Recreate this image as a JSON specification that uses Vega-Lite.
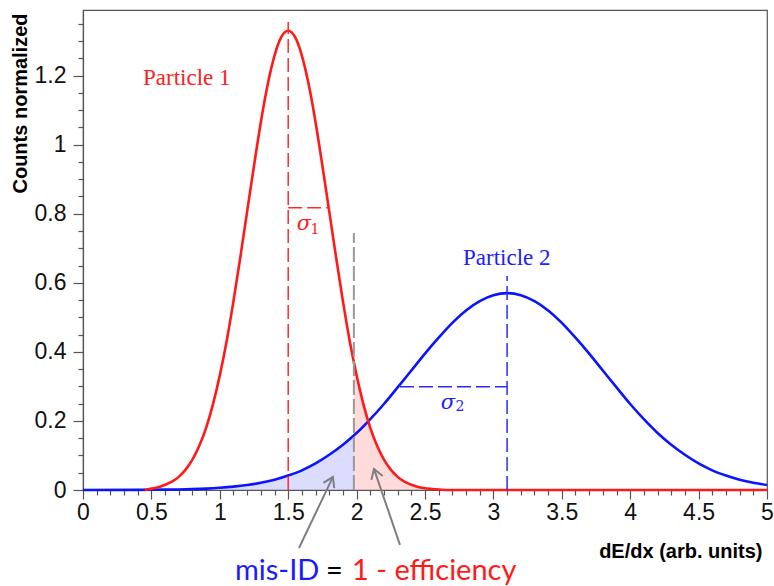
{
  "$schema": "https://vega.github.io/schema/vega-lite/v6.json",
  "width": 684,
  "height": 480,
  "autosize": {"type": "none"},
  "padding": {"left": 83, "top": 10, "right": 7, "bottom": 96},
  "background": "white",
  "config": {
    "view": {"stroke": "#555", "strokeWidth": 1.2},
    "axis": {
      "grid": false,
      "labelFont": "Liberation Sans",
      "labelFontSize": 23,
      "labelColor": "#111",
      "tickColor": "#555",
      "tickWidth": 1.2,
      "domainColor": "#555",
      "domainWidth": 1.2,
      "titleFont": "Liberation Sans",
      "titleFontWeight": "bold",
      "titleFontSize": 20,
      "titleColor": "#000",
      "labelOverlap": false,
      "labelBound": false
    }
  },
  "datasets": {
    "curves": [
      {"series": "blue", "x": 0.0, "y": 0.0},
      {"series": "blue", "x": 0.4, "y": 0.0003},
      {"series": "blue", "x": 0.5, "y": 0.0006},
      {"series": "blue", "x": 0.6, "y": 0.001},
      {"series": "blue", "x": 0.7, "y": 0.0016},
      {"series": "blue", "x": 0.8, "y": 0.0026},
      {"series": "blue", "x": 0.9, "y": 0.0041},
      {"series": "blue", "x": 1.0, "y": 0.0064},
      {"series": "blue", "x": 1.1, "y": 0.0097},
      {"series": "blue", "x": 1.2, "y": 0.0144},
      {"series": "blue", "x": 1.3, "y": 0.021},
      {"series": "blue", "x": 1.4, "y": 0.03},
      {"series": "blue", "x": 1.5, "y": 0.042},
      {"series": "blue", "x": 1.6, "y": 0.057},
      {"series": "blue", "x": 1.7, "y": 0.077},
      {"series": "blue", "x": 1.8, "y": 0.102},
      {"series": "blue", "x": 1.9, "y": 0.131},
      {"series": "blue", "x": 1.98, "y": 0.158},
      {"series": "blue", "x": 2.0, "y": 0.165},
      {"series": "blue", "x": 2.1, "y": 0.205},
      {"series": "blue", "x": 2.2, "y": 0.249},
      {"series": "blue", "x": 2.3, "y": 0.297},
      {"series": "blue", "x": 2.4, "y": 0.346},
      {"series": "blue", "x": 2.5, "y": 0.395},
      {"series": "blue", "x": 2.6, "y": 0.441},
      {"series": "blue", "x": 2.7, "y": 0.484},
      {"series": "blue", "x": 2.8, "y": 0.52},
      {"series": "blue", "x": 2.9, "y": 0.547},
      {"series": "blue", "x": 3.0, "y": 0.564},
      {"series": "blue", "x": 3.1, "y": 0.57},
      {"series": "blue", "x": 3.2, "y": 0.564},
      {"series": "blue", "x": 3.3, "y": 0.547},
      {"series": "blue", "x": 3.4, "y": 0.52},
      {"series": "blue", "x": 3.5, "y": 0.484},
      {"series": "blue", "x": 3.6, "y": 0.441},
      {"series": "blue", "x": 3.7, "y": 0.395},
      {"series": "blue", "x": 3.8, "y": 0.346},
      {"series": "blue", "x": 3.9, "y": 0.297},
      {"series": "blue", "x": 4.0, "y": 0.249},
      {"series": "blue", "x": 4.1, "y": 0.205},
      {"series": "blue", "x": 4.2, "y": 0.165},
      {"series": "blue", "x": 4.3, "y": 0.131},
      {"series": "blue", "x": 4.4, "y": 0.102},
      {"series": "blue", "x": 4.5, "y": 0.077},
      {"series": "blue", "x": 4.6, "y": 0.057},
      {"series": "blue", "x": 4.7, "y": 0.042},
      {"series": "blue", "x": 4.8, "y": 0.03},
      {"series": "blue", "x": 4.9, "y": 0.021},
      {"series": "blue", "x": 5.0, "y": 0.0145},
      {"series": "red", "x": 0.45, "y": 0.0},
      {"series": "red", "x": 0.5, "y": 0.004},
      {"series": "red", "x": 0.55, "y": 0.008},
      {"series": "red", "x": 0.6, "y": 0.015},
      {"series": "red", "x": 0.65, "y": 0.024},
      {"series": "red", "x": 0.7, "y": 0.038},
      {"series": "red", "x": 0.75, "y": 0.059},
      {"series": "red", "x": 0.8, "y": 0.088},
      {"series": "red", "x": 0.85, "y": 0.128},
      {"series": "red", "x": 0.9, "y": 0.18},
      {"series": "red", "x": 0.95, "y": 0.248},
      {"series": "red", "x": 1.0, "y": 0.332},
      {"series": "red", "x": 1.05, "y": 0.431},
      {"series": "red", "x": 1.1, "y": 0.547},
      {"series": "red", "x": 1.15, "y": 0.674},
      {"series": "red", "x": 1.2, "y": 0.807},
      {"series": "red", "x": 1.25, "y": 0.939},
      {"series": "red", "x": 1.3, "y": 1.065},
      {"series": "red", "x": 1.35, "y": 1.174},
      {"series": "red", "x": 1.4, "y": 1.258},
      {"series": "red", "x": 1.45, "y": 1.312},
      {"series": "red", "x": 1.5, "y": 1.33},
      {"series": "red", "x": 1.55, "y": 1.312},
      {"series": "red", "x": 1.6, "y": 1.258},
      {"series": "red", "x": 1.65, "y": 1.174},
      {"series": "red", "x": 1.7, "y": 1.065},
      {"series": "red", "x": 1.75, "y": 0.939},
      {"series": "red", "x": 1.8, "y": 0.807},
      {"series": "red", "x": 1.85, "y": 0.674},
      {"series": "red", "x": 1.9, "y": 0.547},
      {"series": "red", "x": 1.95, "y": 0.431},
      {"series": "red", "x": 1.98, "y": 0.37},
      {"series": "red", "x": 2.0, "y": 0.332},
      {"series": "red", "x": 2.05, "y": 0.248},
      {"series": "red", "x": 2.1, "y": 0.18},
      {"series": "red", "x": 2.15, "y": 0.128},
      {"series": "red", "x": 2.2, "y": 0.088},
      {"series": "red", "x": 2.25, "y": 0.059},
      {"series": "red", "x": 2.3, "y": 0.038},
      {"series": "red", "x": 2.35, "y": 0.024},
      {"series": "red", "x": 2.4, "y": 0.015},
      {"series": "red", "x": 2.45, "y": 0.009},
      {"series": "red", "x": 2.5, "y": 0.005},
      {"series": "red", "x": 2.55, "y": 0.003},
      {"series": "red", "x": 2.6, "y": 0.0015},
      {"series": "red", "x": 2.7, "y": 0.0},
      {"series": "red", "x": 5.0, "y": 0.0}
    ],
    "guides": [
      {"group": "red", "x": 1.5, "x2": 1.5, "y": 0, "y2": 1.355},
      {"group": "red", "x": 1.5, "x2": 1.806, "y": 0.817, "y2": 0.817},
      {"group": "blue", "x": 3.1, "x2": 3.1, "y": 0, "y2": 0.62},
      {"group": "blue", "x": 2.317, "x2": 3.1, "y": 0.299, "y2": 0.299},
      {"group": "cut", "x": 1.98, "x2": 1.98, "y": 0, "y2": 0.744}
    ],
    "arrows": [
      {"id": "misid", "x": 1.579, "y": -0.168, "x2": 1.827, "y2": 0.038},
      {"id": "eff", "x": 2.317, "y": -0.159, "x2": 2.127, "y2": 0.061}
    ],
    "labels": [
      {"group": "red", "x": 0.439, "y": 1.173, "text": "Particle 1"},
      {"group": "blue", "x": 2.778, "y": 0.652, "text": "Particle 2"},
      {"group": "redsigma", "x": 1.615, "y": 0.77, "text": "σ"},
      {"group": "redsub", "x": 1.696, "y": 0.753, "text": "1"},
      {"group": "bluesigma", "x": 2.668, "y": 0.252, "text": "σ"},
      {"group": "bluesub", "x": 2.756, "y": 0.24, "text": "2"},
      {"group": "misid", "x": 1.111, "y": -0.2606, "text": "mis-ID"},
      {"group": "equals", "x": 1.838, "y": -0.2606, "text": "="},
      {"group": "eff", "x": 1.966, "y": -0.2606, "text": "1 - efficiency"}
    ]
  },
  "encoding": {
    "x": {
      "field": "x",
      "type": "quantitative",
      "scale": {"domain": [0, 5], "nice": false, "zero": false},
      "axis": {
        "values": [0, 0.1, 0.2, 0.3, 0.4, 0.5, 0.6, 0.7, 0.8, 0.9, 1, 1.1, 1.2, 1.3, 1.4, 1.5, 1.6, 1.7, 1.8, 1.9, 2, 2.1, 2.2, 2.3, 2.4, 2.5, 2.6, 2.7, 2.8, 2.9, 3, 3.1, 3.2, 3.3, 3.4, 3.5, 3.6, 3.7, 3.8, 3.9, 4, 4.1, 4.2, 4.3, 4.4, 4.5, 4.6, 4.7, 4.8, 4.9, 5],
        "labelExpr": "abs(datum.value * 2 - round(datum.value * 2)) < 0.001 ? format(datum.value, '~g') : ''",
        "tickSize": {"condition": {"test": "abs(datum.value * 2 - round(datum.value * 2)) < 0.001", "value": 9}, "value": 5},
        "labelFlush": false,
        "labelPadding": 2,
        "title": "dE/dx (arb. units)",
        "titleAnchor": "end",
        "titleAlign": "right",
        "titleBaseline": "alphabetic",
        "titleX": 679,
        "titleY": 67
      }
    },
    "y": {
      "field": "y",
      "type": "quantitative",
      "scale": {"domain": [0, 1.39], "nice": false, "zero": false},
      "axis": {
        "values": [0, 0.05, 0.1, 0.15, 0.2, 0.25, 0.3, 0.35, 0.4, 0.45, 0.5, 0.55, 0.6, 0.65, 0.7, 0.75, 0.8, 0.85, 0.9, 0.95, 1, 1.05, 1.1, 1.15, 1.2, 1.25, 1.3, 1.35],
        "labelExpr": "abs(datum.value * 5 - round(datum.value * 5)) < 0.001 ? format(datum.value, '~g') : ''",
        "tickSize": {"condition": {"test": "abs(datum.value * 5 - round(datum.value * 5)) < 0.001", "value": 10}, "value": 5},
        "labelPadding": 7,
        "title": "Counts normalized",
        "titleAngle": -90,
        "titleAnchor": "end",
        "titleAlign": "right",
        "titleBaseline": "alphabetic",
        "titleX": -57,
        "titleY": 3
      }
    }
  },
  "layer": [
    {
      "data": {"name": "curves"},
      "transform": [{"filter": "datum.series === 'blue' && datum.x >= 1.0 && datum.x <= 1.98"}],
      "mark": {"type": "area", "color": "#5050ff", "opacity": 0.2, "interpolate": "monotone"}
    },
    {
      "data": {"name": "curves"},
      "transform": [{"filter": "datum.series === 'red' && datum.x >= 1.98 && datum.x <= 2.7"}],
      "mark": {"type": "area", "color": "#ff4a4a", "opacity": 0.2, "interpolate": "monotone"}
    },
    {
      "data": {"name": "curves"},
      "transform": [{"filter": "datum.series === 'blue'"}],
      "mark": {"type": "line", "color": "#0a14ff", "strokeWidth": 2.6, "interpolate": "monotone"}
    },
    {
      "data": {"name": "curves"},
      "transform": [{"filter": "datum.series === 'red'"}],
      "mark": {"type": "line", "color": "#ff1a1a", "strokeWidth": 2.6, "interpolate": "monotone"}
    },
    {
      "data": {"name": "guides"},
      "transform": [{"filter": "datum.group === 'red'"}],
      "mark": {"type": "rule", "color": "#ff2a2a", "strokeWidth": 1.5, "strokeDash": [14, 5]},
      "encoding": {"x2": {"field": "x2"}, "y2": {"field": "y2"}}
    },
    {
      "data": {"name": "guides"},
      "transform": [{"filter": "datum.group === 'blue'"}],
      "mark": {"type": "rule", "color": "#2a2aff", "strokeWidth": 1.5, "strokeDash": [14, 5]},
      "encoding": {"x2": {"field": "x2"}, "y2": {"field": "y2"}}
    },
    {
      "data": {"name": "guides"},
      "transform": [{"filter": "datum.group === 'cut'"}],
      "mark": {"type": "rule", "color": "#999999", "strokeWidth": 2, "strokeDash": [15, 4]},
      "encoding": {"x2": {"field": "x2"}, "y2": {"field": "y2"}}
    },
    {
      "data": {"name": "arrows"},
      "mark": {"type": "rule", "color": "#7f7f7f", "strokeWidth": 2},
      "encoding": {"x2": {"field": "x2"}, "y2": {"field": "y2"}}
    },
    {
      "data": {"name": "arrows"},
      "transform": [{"filter": "datum.id === 'misid'"}],
      "mark": {"type": "point", "shape": "M-0.6,0.95L0,0L0.6,0.95", "filled": false, "color": "#7f7f7f", "strokeWidth": 2, "size": 400, "angle": 25.6, "opacity": 1},
      "encoding": {"x": {"field": "x2"}, "y": {"field": "y2"}}
    },
    {
      "data": {"name": "arrows"},
      "transform": [{"filter": "datum.id === 'eff'"}],
      "mark": {"type": "point", "shape": "M-0.6,0.95L0,0L0.6,0.95", "filled": false, "color": "#7f7f7f", "strokeWidth": 2, "size": 400, "angle": 341.1, "opacity": 1},
      "encoding": {"x": {"field": "x2"}, "y": {"field": "y2"}}
    },
    {
      "data": {"name": "labels"},
      "transform": [{"filter": "datum.group === 'red'"}],
      "mark": {"type": "text", "font": "Liberation Serif", "fontSize": 23, "color": "#ff2020", "align": "left", "baseline": "alphabetic"},
      "encoding": {"text": {"field": "text"}}
    },
    {
      "data": {"name": "labels"},
      "transform": [{"filter": "datum.group === 'blue'"}],
      "mark": {"type": "text", "font": "Liberation Serif", "fontSize": 23, "color": "#2020ff", "align": "left", "baseline": "alphabetic"},
      "encoding": {"text": {"field": "text"}}
    },
    {
      "data": {"name": "labels"},
      "transform": [{"filter": "datum.group === 'redsigma'"}],
      "mark": {"type": "text", "font": "DejaVu Serif", "fontStyle": "italic", "fontSize": 21, "color": "#ff2020", "align": "center", "baseline": "middle"},
      "encoding": {"text": {"field": "text"}}
    },
    {
      "data": {"name": "labels"},
      "transform": [{"filter": "datum.group === 'redsub'"}],
      "mark": {"type": "text", "font": "DejaVu Serif", "fontSize": 14, "color": "#ff2020", "align": "center", "baseline": "middle"},
      "encoding": {"text": {"field": "text"}}
    },
    {
      "data": {"name": "labels"},
      "transform": [{"filter": "datum.group === 'bluesigma'"}],
      "mark": {"type": "text", "font": "DejaVu Serif", "fontStyle": "italic", "fontSize": 21, "color": "#2020ff", "align": "center", "baseline": "middle"},
      "encoding": {"text": {"field": "text"}}
    },
    {
      "data": {"name": "labels"},
      "transform": [{"filter": "datum.group === 'bluesub'"}],
      "mark": {"type": "text", "font": "DejaVu Serif", "fontSize": 14, "color": "#2020ff", "align": "center", "baseline": "middle"},
      "encoding": {"text": {"field": "text"}}
    },
    {
      "data": {"name": "labels"},
      "transform": [{"filter": "datum.group === 'misid'"}],
      "mark": {"type": "text", "font": "Lato", "fontSize": 29, "color": "#1a1aff", "align": "left", "baseline": "alphabetic"},
      "encoding": {"text": {"field": "text"}}
    },
    {
      "data": {"name": "labels"},
      "transform": [{"filter": "datum.group === 'equals'"}],
      "mark": {"type": "text", "font": "Lato", "fontSize": 29, "color": "#000000", "align": "center", "baseline": "alphabetic"},
      "encoding": {"text": {"field": "text"}}
    },
    {
      "data": {"name": "labels"},
      "transform": [{"filter": "datum.group === 'eff'"}],
      "mark": {"type": "text", "font": "Lato", "fontSize": 29, "color": "#ff1a1a", "align": "left", "baseline": "alphabetic"},
      "encoding": {"text": {"field": "text"}}
    }
  ]
}
